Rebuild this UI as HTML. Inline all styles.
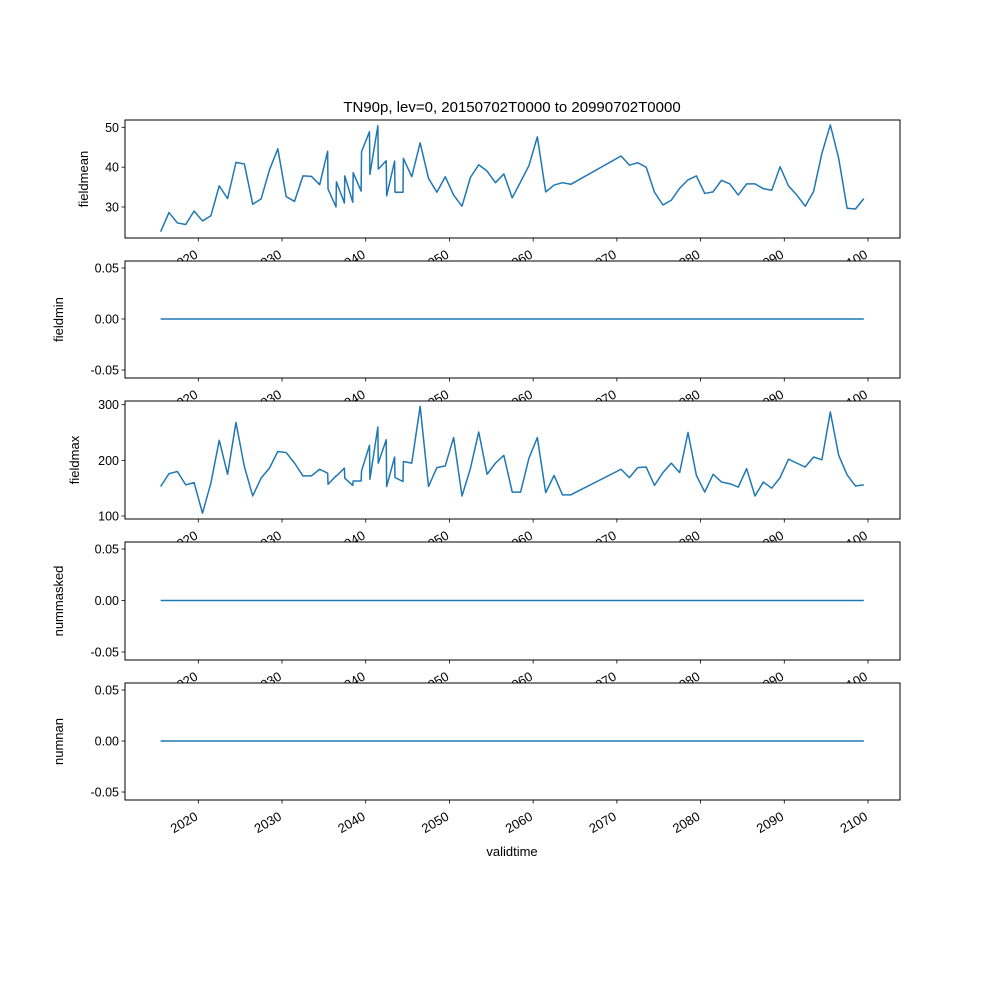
<!DOCTYPE html>
<html><head><meta charset="utf-8"><style>
body{margin:0;background:#fff}
text{font-family:"Liberation Sans","DejaVu Sans",sans-serif;fill:#000}
</style></head><body>
<svg id="chart" width="1000" height="1000" xmlns="http://www.w3.org/2000/svg">
<rect width="1000" height="1000" fill="#fff"/>
<text x="512" y="112" font-size="15" text-anchor="middle">TN90p, lev=0, 20150702T0000 to 20990702T0000</text>
<text x="512" y="856" font-size="13" text-anchor="middle">validtime</text>
</svg>
<script>
const times = [2015.5,2016.5,2017.5,2018.5,2019.5,2020.5,2021.5,2022.5,2023.5,2024.5,2025.5,2026.5,2027.5,2028.5,2029.5,2030.5,2031.5,2032.5,2033.5,2034.5,
2035.45,2035.5,2036.45,2036.5,2037.45,2037.5,2038.45,2038.5,2039.45,2039.5,2040.45,2040.5,2041.45,2041.5,2042.45,2042.5,2043.45,2043.5,2044.45,2044.5,
2045.5,2046.5,2047.5,2048.5,2049.5,2050.5,2051.5,2052.5,2053.5,2054.5,2055.5,2056.5,2057.5,2058.5,2059.5,2060.5,2061.5,2062.5,2063.5,2064.5,
2070.5,2071.5,2072.5,2073.5,2074.5,2075.5,2076.5,2077.5,2078.5,2079.5,2080.5,2081.5,2082.5,2083.5,2084.5,2085.5,2086.5,2087.5,2088.5,2089.5,2090.5,2091.5,2092.5,2093.5,2094.5,2095.5,2096.5,2097.5,2098.5,2099.5];
const fieldmean = [23.8,28.6,26.0,25.6,29.0,26.5,27.8,35.3,32.1,41.2,40.8,30.7,32.0,39.3,44.6,32.6,31.4,37.8,37.7,35.6,
44.0,34.5,30.0,36.3,31.0,37.8,31.2,38.6,34.0,43.9,48.9,38.2,50.4,39.5,41.6,32.8,41.5,33.7,33.7,42.2,
37.6,46.1,37.2,33.7,37.6,33.0,30.2,37.4,40.6,39.0,36.1,38.3,32.3,36.3,40.4,47.6,33.8,35.5,36.1,35.7,
42.8,40.5,41.1,40.0,33.7,30.5,31.7,34.7,36.8,37.8,33.4,33.8,36.7,35.8,33.0,35.8,35.8,34.6,34.2,40.1,35.3,33.0,30.2,33.9,43.5,50.6,42.2,29.7,29.5,32.1];
const fieldmax = [153,176,180,156,160,105,159,236,175,268,189,136,168,186,216,214,195,172,172,184,
177,157,172,172,186,168,155,163,163,181,227,166,260,195,237,153,206,169,162,198,
195,297,153,187,190,241,136,185,251,175,195,209,143,143,204,241,142,173,138,138,
184,169,187,188,155,178,195,178,250,173,143,175,161,158,152,185,136,161,150,169,202,195,188,206,201,287,209,174,154,156];
const fieldmin = times.map(() => 0);
const nummasked = times.map(() => 0);
const numnan = times.map(() => 0);
const xTicks = [2020,2030,2040,2050,2060,2070,2080,2090,2100];
const meanTicks = [30,40,50];
const maxTicks = [100,200,300];
const zeroTicks = [-0.05,0,0.05];

const NS = "http://www.w3.org/2000/svg";
const svg = document.getElementById('chart');
const L = 125, R = 900;
const xS = t => 198.3 + (t - 2020) * (868 - 198.3) / 80;
function el(tag, attrs, parent) {
  const e = document.createElementNS(NS, tag);
  for (const k in attrs) e.setAttribute(k, attrs[k]);
  (parent || svg).appendChild(e);
  return e;
}
const panels = [
  {name:'fieldmean', top:120, bot:238, vals:fieldmean, ticks:meanTicks, v0:30, y0:207, v1:50, y1:127.3, fmt:v=>String(v), lx:88},
  {name:'fieldmin', top:261, bot:378, vals:fieldmin, ticks:zeroTicks, v0:-0.05, y0:370, v1:0.05, y1:268, fmt:v=>v.toFixed(2), lx:63},
  {name:'fieldmax', top:401, bot:519, vals:fieldmax, ticks:maxTicks, v0:100, y0:516, v1:300, y1:404.7, fmt:v=>String(v), lx:79},
  {name:'nummasked', top:542, bot:660, vals:nummasked, ticks:zeroTicks, v0:-0.05, y0:652, v1:0.05, y1:549, fmt:v=>v.toFixed(2), lx:63},
  {name:'numnan', top:683, bot:800, vals:numnan, ticks:zeroTicks, v0:-0.05, y0:792, v1:0.05, y1:690, fmt:v=>v.toFixed(2), lx:63}
];
panels.forEach(p => {
  const yS = v => p.y0 + (v - p.v0) * (p.y1 - p.y0) / (p.v1 - p.v0);
  const g = el('g', {});
  
  
  el('rect', {x:L, y:p.top, width:R-L, height:p.bot-p.top, fill:'#fff'}, g);
  const d = p.vals.map((v,i) => (i?'L':'M') + xS(times[i]).toFixed(2) + ' ' + yS(v).toFixed(2)).join(' ');
  const line = el('path', {d:d, fill:'none', stroke:'#1f77b4', 'stroke-width':1.5, 'stroke-linejoin':'round'}, g);
  
  
  el('rect', {x:L, y:p.top, width:R-L, height:p.bot-p.top, fill:'none', stroke:'#000', 'stroke-width':1}, g);
  p.ticks.forEach(t => {
    const y = yS(t);
    el('line', {x1:L-3.5, x2:L, y1:y, y2:y, stroke:'#000', 'stroke-width':0.8}, g);
    const tx = el('text', {x:L-6, y:y+4.5, 'font-size':12.5, 'text-anchor':'end'}, g);
    
    
    tx.textContent = p.fmt(t);
  });
  xTicks.forEach(t => {
    const x = xS(t);
    el('line', {x1:x, x2:x, y1:p.bot, y2:p.bot+3.5, stroke:'#000', 'stroke-width':0.8}, g);
    const ax = x + 0.5, ay = p.bot + 19;
    const tx = el('text', {x:ax, y:ay, 'font-size':13, 'text-anchor':'end', transform:`rotate(-30 ${ax} ${ay})`}, g);
    
    
    tx.textContent = String(t);
  });
  const yl = el('text', {x:p.lx, y:(p.top+p.bot)/2, 'font-size':13, 'text-anchor':'middle', transform:`rotate(-90 ${p.lx} ${(p.top+p.bot)/2})`}, g);
  
  
  yl.textContent = p.name;
});
</script>
</body></html>
